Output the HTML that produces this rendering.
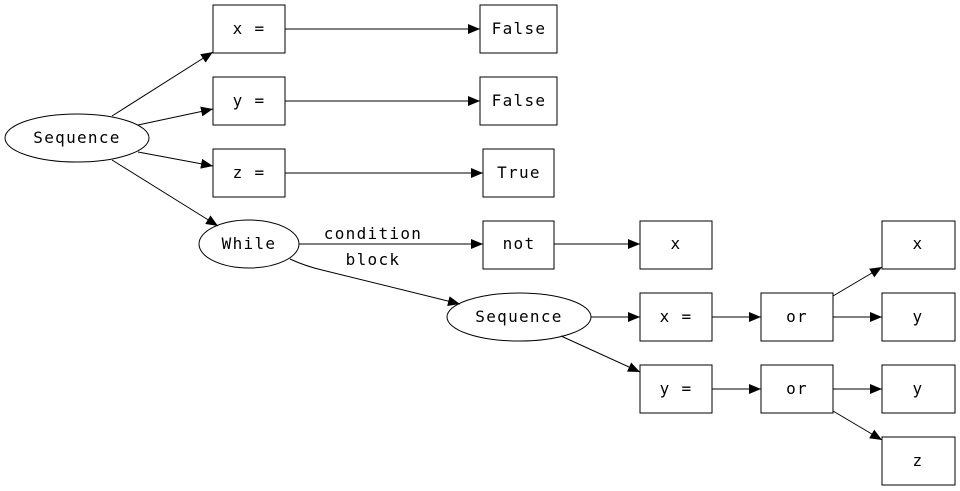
<!DOCTYPE html>
<html><head><style>body{margin:0;background:#fff}svg{display:block}text{font-family:"DejaVu Sans Mono","Liberation Mono",monospace;font-size:16px;letter-spacing:1.3px;fill:#000}</style></head>
<body>
<svg width="960" height="491" viewBox="0 0 960 491" xmlns="http://www.w3.org/2000/svg">
<defs><marker id="a" viewBox="0 0 12 10" refX="12" refY="5" markerWidth="12" markerHeight="10" markerUnits="userSpaceOnUse" orient="auto"><path d="M0,0L12,5L0,10z" fill="#000"/></marker></defs>
<g fill="none" stroke="#000" stroke-width="1">
<ellipse cx="77" cy="138" rx="72" ry="24"/>
<ellipse cx="249" cy="244" rx="50" ry="24"/>
<ellipse cx="519" cy="317" rx="72" ry="24"/>
<rect x="213" y="5" width="72" height="48"/>
<rect x="213" y="77" width="72" height="48"/>
<rect x="213" y="149" width="72" height="48"/>
<rect x="480" y="5" width="77" height="48"/>
<rect x="480" y="77" width="77" height="48"/>
<rect x="483" y="149" width="71" height="48"/>
<rect x="483" y="221" width="71" height="48"/>
<rect x="640" y="221" width="72" height="48"/>
<rect x="640" y="293" width="72" height="48"/>
<rect x="640" y="365" width="72" height="48"/>
<rect x="761" y="293" width="72" height="48"/>
<rect x="761" y="365" width="72" height="48"/>
<rect x="882" y="221" width="73" height="48"/>
<rect x="882" y="293" width="73" height="48"/>
<rect x="882" y="365" width="73" height="48"/>
<rect x="882" y="437" width="73" height="48"/>
<g marker-end="url(#a)">
<path d="M112,116L213,52"/>
<path d="M138,125L213,109"/>
<path d="M138,152L213,166"/>
<path d="M112,160L218,226"/>
<path d="M285,29H480"/>
<path d="M285,101H480"/>
<path d="M285,173H483"/>
<path d="M299,244H483"/>
<path d="M290,259Q305,266 322,270L460,304"/>
<path d="M554,244H640"/>
<path d="M591,317H640"/>
<path d="M561,336L640,372"/>
<path d="M712,317H761"/>
<path d="M712,389H761"/>
<path d="M833,296L882,267"/>
<path d="M833,317H882"/>
<path d="M833,389H882"/>
<path d="M833,411L882,440"/>
</g></g>
<g text-anchor="middle">
<text x="77" y="143">Sequence</text>
<text x="249" y="249">While</text>
<text x="519" y="322">Sequence</text>
<text x="249" y="34">x =</text>
<text x="249" y="106">y =</text>
<text x="249" y="178">z =</text>
<text x="519" y="34">False</text>
<text x="519" y="106">False</text>
<text x="519" y="178">True</text>
<text x="519" y="249">not</text>
<text x="676" y="249">x</text>
<text x="676" y="322">x =</text>
<text x="676" y="394">y =</text>
<text x="797" y="322">or</text>
<text x="797" y="394">or</text>
<text x="918" y="249">x</text>
<text x="918" y="322">y</text>
<text x="918" y="394">y</text>
<text x="918" y="466">z</text>
<text x="373" y="239">condition</text>
<text x="373" y="265">block</text>
</g>
</svg>
</body></html>
